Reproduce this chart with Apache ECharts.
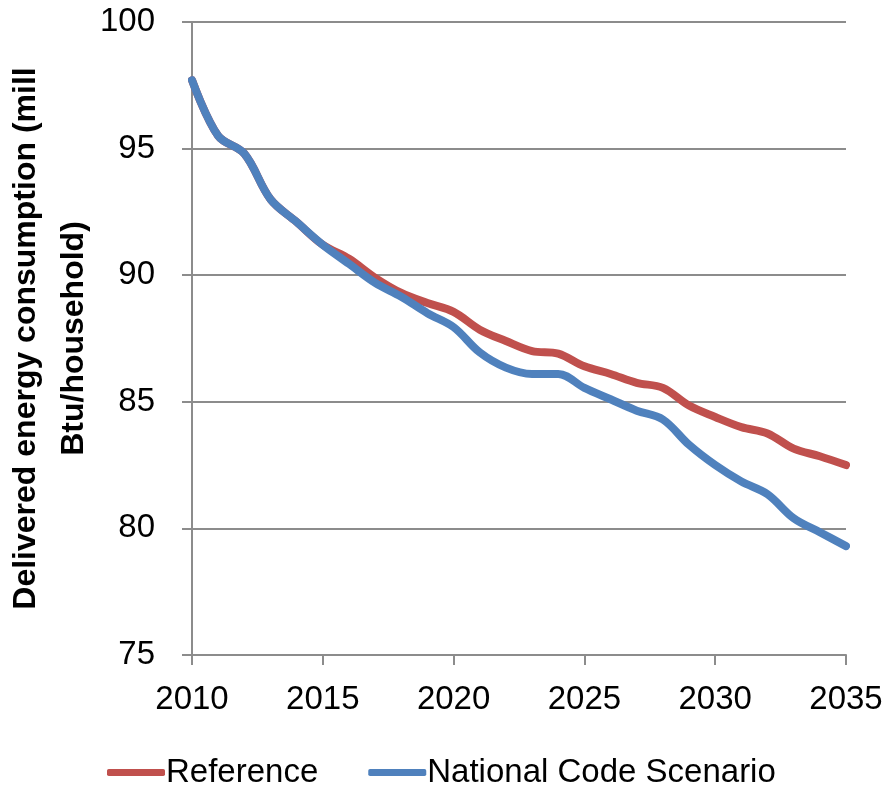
<!DOCTYPE html>
<html>
<head>
<meta charset="utf-8">
<script src="https://cdn.jsdelivr.net/npm/echarts@6/dist/echarts.min.js"></script>
<style>
  html, body { margin: 0; padding: 0; background: #fff; }
  #chart { width: 887px; height: 787px; }
</style>
</head>
<body>
<div id="chart"></div>
<script>
// Delivered residential energy consumption per household, 2010-2035
const years = [2010, 2011, 2012, 2013, 2014, 2015, 2016, 2017, 2018, 2019, 2020, 2021, 2022,
               2023, 2024, 2025, 2026, 2027, 2028, 2029, 2030, 2031, 2032, 2033, 2034, 2035];
const referenceValues = [97.7, 95.5, 94.8, 93.0, 92.1, 91.2, 90.65, 89.9, 89.3, 88.9, 88.55, 87.85, 87.4,
                         87.0, 86.9, 86.4, 86.1, 85.75, 85.55, 84.85, 84.4, 84.0, 83.75, 83.15, 82.85, 82.5];
const nationalCodeValues = [97.7, 95.5, 94.8, 93.0, 92.1, 91.2, 90.45, 89.7, 89.15, 88.5, 87.95, 86.95, 86.35,
                            86.1, 86.1, 85.55, 85.1, 84.65, 84.3, 83.3, 82.5, 81.85, 81.35, 80.4, 79.85, 79.3];
const yTicks = [75, 80, 85, 90, 95, 100];
const seriesNames = ['Reference', 'National Code Scenario'];

const FONT = '"Liberation Sans", Arial, sans-serif';
const GRAY = '#8c8c8c';

const chart = echarts.init(document.getElementById('chart'), null, { renderer: 'canvas' });

chart.setOption({
  animation: false,
  backgroundColor: '#ffffff',
  grid: { left: 192, right: 41, top: 22, bottom: 132, containLabel: false, outerBoundsMode: 'none' },
  legend: {
    data: seriesNames,
    bottom: -7,
    left: 102,
    itemWidth: 58,
    itemHeight: 7,
    itemGap: 50,
    icon: 'roundRect',
    textStyle: { fontFamily: FONT, fontSize: 33, color: '#000', padding: [0, 0, 0, -4] }
  },
  xAxis: {
    type: 'category',
    data: years,
    boundaryGap: false,
    axisLine: { lineStyle: { color: GRAY, width: 2 } },
    axisTick: { show: true, interval: 4, length: 10, lineStyle: { color: GRAY, width: 2 } },
    axisLabel: { interval: 4, margin: 28, fontFamily: FONT, fontSize: 33, color: '#000' },
    splitLine: { show: false }
  },
  yAxis: {
    type: 'value',
    min: yTicks[0],
    max: yTicks[yTicks.length - 1],
    interval: 5,
    name: 'Delivered energy consumption (mill\nBtu/household)',
    nameLocation: 'middle',
    nameGap: 94,
    nameMoveOverlap: false,
    nameTextStyle: { fontFamily: FONT, fontSize: 32, fontWeight: 'bold', color: '#000', lineHeight: 48 },
    axisLine: { show: true, lineStyle: { color: GRAY, width: 2 } },
    axisTick: { show: true, length: 10, lineStyle: { color: GRAY, width: 2 } },
    axisLabel: { margin: 37, fontFamily: FONT, fontSize: 33, color: '#000' },
    splitLine: { show: true, lineStyle: { color: GRAY, width: 2 } }
  },
  series: [
    {
      name: seriesNames[0],
      type: 'line',
      data: referenceValues,
      smooth: 0.35,
      symbol: 'none',
      color: '#c0504d',
      lineStyle: { width: 8, color: '#c0504d', cap: 'round', join: 'round' }
    },
    {
      name: seriesNames[1],
      type: 'line',
      data: nationalCodeValues,
      smooth: 0.35,
      symbol: 'none',
      color: '#4f81bd',
      lineStyle: { width: 8, color: '#4f81bd', cap: 'round', join: 'round' }
    }
  ]
});
</script>
</body>
</html>
